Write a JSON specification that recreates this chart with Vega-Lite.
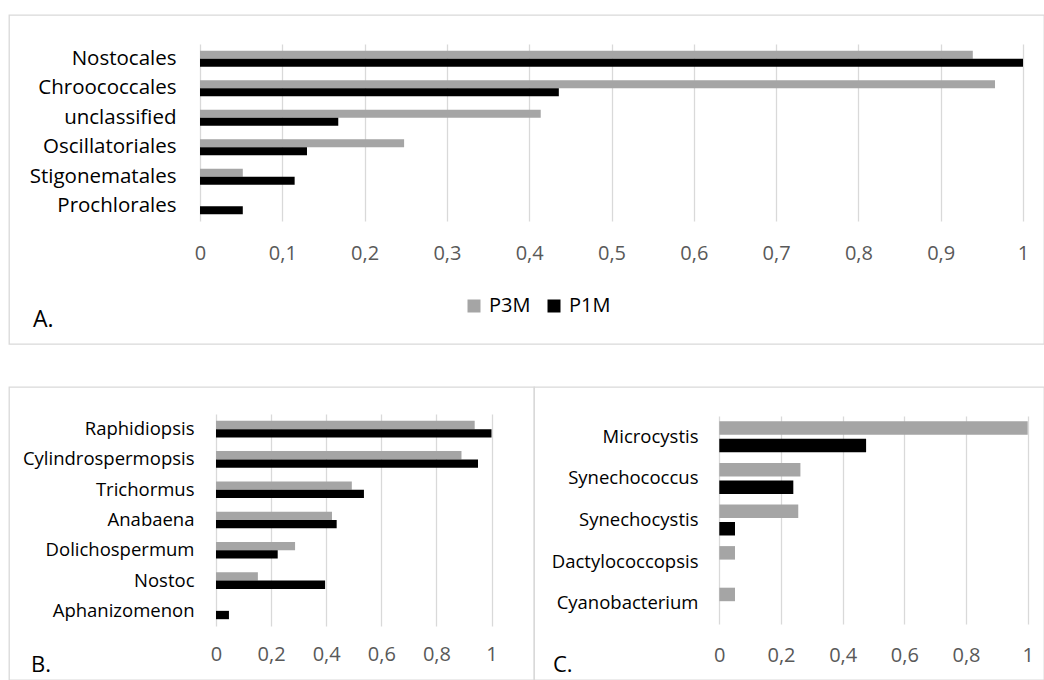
{
  "$schema": "https://vega.github.io/schema/vega-lite/v6.json",
  "padding": {"left": 8, "top": 14, "right": 0, "bottom": 0},
  "autosize": {"type": "pad"},
  "bounds": "flush",
  "spacing": 43,
  "datasets": {
    "orders": [
      {"taxon": "Nostocales", "sample": "P3M", "value": 0.939},
      {"taxon": "Nostocales", "sample": "P1M", "value": 1.0},
      {"taxon": "Chroococcales", "sample": "P3M", "value": 0.966},
      {"taxon": "Chroococcales", "sample": "P1M", "value": 0.436},
      {"taxon": "unclassified", "sample": "P3M", "value": 0.414},
      {"taxon": "unclassified", "sample": "P1M", "value": 0.168},
      {"taxon": "Oscillatoriales", "sample": "P3M", "value": 0.248},
      {"taxon": "Oscillatoriales", "sample": "P1M", "value": 0.13},
      {"taxon": "Stigonematales", "sample": "P3M", "value": 0.052},
      {"taxon": "Stigonematales", "sample": "P1M", "value": 0.115},
      {"taxon": "Prochlorales", "sample": "P3M", "value": 0},
      {"taxon": "Prochlorales", "sample": "P1M", "value": 0.052}
    ],
    "nostocales": [
      {"taxon": "Raphidiopsis", "sample": "P3M", "value": 0.939},
      {"taxon": "Raphidiopsis", "sample": "P1M", "value": 1.0},
      {"taxon": "Cylindrospermopsis", "sample": "P3M", "value": 0.891},
      {"taxon": "Cylindrospermopsis", "sample": "P1M", "value": 0.951},
      {"taxon": "Trichormus", "sample": "P3M", "value": 0.493},
      {"taxon": "Trichormus", "sample": "P1M", "value": 0.537},
      {"taxon": "Anabaena", "sample": "P3M", "value": 0.421},
      {"taxon": "Anabaena", "sample": "P1M", "value": 0.438},
      {"taxon": "Dolichospermum", "sample": "P3M", "value": 0.287},
      {"taxon": "Dolichospermum", "sample": "P1M", "value": 0.224},
      {"taxon": "Nostoc", "sample": "P3M", "value": 0.152},
      {"taxon": "Nostoc", "sample": "P1M", "value": 0.396},
      {"taxon": "Aphanizomenon", "sample": "P3M", "value": 0},
      {"taxon": "Aphanizomenon", "sample": "P1M", "value": 0.047}
    ],
    "chroococcales": [
      {"taxon": "Microcystis", "sample": "P3M", "value": 1.0},
      {"taxon": "Microcystis", "sample": "P1M", "value": 0.476},
      {"taxon": "Synechococcus", "sample": "P3M", "value": 0.263},
      {"taxon": "Synechococcus", "sample": "P1M", "value": 0.24},
      {"taxon": "Synechocystis", "sample": "P3M", "value": 0.256},
      {"taxon": "Synechocystis", "sample": "P1M", "value": 0.051},
      {"taxon": "Dactylococcopsis", "sample": "P3M", "value": 0.051},
      {"taxon": "Dactylococcopsis", "sample": "P1M", "value": 0},
      {"taxon": "Cyanobacterium", "sample": "P3M", "value": 0.051},
      {"taxon": "Cyanobacterium", "sample": "P1M", "value": 0}
    ]
  },
  "resolve": {"scale": {"color": "independent", "yOffset": "independent"}, "legend": {"color": "independent"}},
  "vconcat": [
    {
      "width": 1035,
      "height": 329,
      "data": {"name": "orders"},
      "mark": {"type": "bar"},
      "title": {"text": "A.", "orient": "bottom", "anchor": "start", "frame": "group", "baseline": "alphabetic", "offset": -17, "dx": 24, "fontSize": 23},
      "encoding": {
        "y": {
          "field": "taxon", "type": "nominal",
          "sort": ["Nostocales", "Chroococcales", "unclassified", "Oscillatoriales", "Stigonematales", "Prochlorales"],
          "scale": {"range": [29, 206], "paddingInner": 0.458, "paddingOuter": 0.229},
          "axis": {"offset": -167, "labelFontSize": 20.5, "labelColor": "#000000", "labelPadding": 0}
        },
        "x": {
          "field": "value", "type": "quantitative",
          "scale": {"domain": [0, 1], "range": [191, 1014], "nice": false},
          "axis": {"orient": "top", "labelPadding": -238, "values": [0, 0.1, 0.2, 0.3, 0.4, 0.5, 0.6, 0.7, 0.8, 0.9, 1], "labelFontSize": 20, "grid": true}
        },
        "yOffset": {"field": "sample", "type": "nominal", "sort": ["P3M", "P1M"], "scale": {"paddingInner": 0, "paddingOuter": 0}},
        "color": {
          "field": "sample", "type": "nominal",
          "scale": {"domain": ["P3M", "P1M"], "range": ["#a5a5a5", "#000000"]},
          "legend": {
            "orient": "none", "legendX": 455, "legendY": 281, "direction": "horizontal",
            "title": null, "padding": 0, "symbolType": "square", "symbolSize": 169,
            "symbolStrokeWidth": 0, "labelFontSize": 20, "labelColor": "#000000",
            "labelOffset": 5, "columnPadding": 13
          }
        }
      }
    },
    {
      "spacing": 0,
      "bounds": "flush",
      "resolve": {"scale": {"color": "independent", "yOffset": "independent"}, "legend": {"color": "independent"}},
      "hconcat": [
        {
          "width": 525,
          "height": 293,
          "data": {"name": "nostocales"},
          "mark": {"type": "bar"},
          "title": {"text": "B.", "orient": "bottom", "anchor": "start", "frame": "group", "baseline": "alphabetic", "offset": -8, "dx": 22, "fontSize": 22},
          "encoding": {
            "y": {
              "field": "taxon", "type": "nominal",
              "sort": ["Raphidiopsis", "Cylindrospermopsis", "Trichormus", "Anabaena", "Dolichospermum", "Nostoc", "Aphanizomenon"],
              "scale": {"range": [27, 239], "paddingInner": 0.45, "paddingOuter": 0.225},
              "axis": {"offset": -185, "labelFontSize": 18.5, "labelColor": "#000000", "labelPadding": 0}
            },
            "x": {
              "field": "value", "type": "quantitative",
              "scale": {"domain": [0, 1], "range": [207, 482.5], "nice": false},
              "axis": {"orient": "top", "labelPadding": -267, "values": [0, 0.2, 0.4, 0.6, 0.8, 1], "labelFontSize": 20, "grid": true}
            },
            "yOffset": {"field": "sample", "type": "nominal", "sort": ["P3M", "P1M"], "scale": {"paddingInner": 0, "paddingOuter": 0}},
            "color": {
              "field": "sample", "type": "nominal",
              "scale": {"domain": ["P3M", "P1M"], "range": ["#a5a5a5", "#000000"]},
              "legend": null
            }
          }
        },
        {
          "width": 510,
          "height": 293,
          "data": {"name": "chroococcales"},
          "mark": {"type": "bar"},
          "title": {"text": "C.", "orient": "bottom", "anchor": "start", "frame": "group", "baseline": "alphabetic", "offset": -8, "dx": 19, "fontSize": 22},
          "encoding": {
            "y": {
              "field": "taxon", "type": "nominal",
              "sort": ["Microcystis", "Synechococcus", "Synechocystis", "Dactylococcopsis", "Cyanobacterium"],
              "scale": {"range": [29, 237], "paddingInner": 0.255, "paddingOuter": 0.1275},
              "axis": {"offset": -164, "labelFontSize": 18.5, "labelColor": "#000000", "labelPadding": 0}
            },
            "x": {
              "field": "value", "type": "quantitative",
              "scale": {"domain": [0, 1], "range": [185.3, 493.7], "nice": false},
              "axis": {"orient": "top", "labelPadding": -268, "values": [0, 0.2, 0.4, 0.6, 0.8, 1], "labelFontSize": 20, "grid": true}
            },
            "yOffset": {"field": "sample", "type": "nominal", "sort": ["P3M", "P1M"], "scale": {"paddingInner": 0.229, "paddingOuter": 0}},
            "color": {
              "field": "sample", "type": "nominal",
              "scale": {"domain": ["P3M", "P1M"], "range": ["#a5a5a5", "#000000"]},
              "legend": null
            }
          }
        }
      ]
    }
  ],
  "config": {
    "font": "Open Sans",
    "view": {"stroke": "#d9d9d9", "strokeWidth": 1.3},
    "title": {"color": "#000000", "fontWeight": "normal", "font": "Open Sans"},
    "axis": {
      "title": null,
      "domain": false,
      "ticks": false,
      "tickSize": 0,
      "labelFont": "Open Sans",
      "labelLimit": 400,
      "labelFlush": false,
      "labelOverlap": false,
      "gridColor": "#d9d9d9",
      "gridWidth": 1.3
    },
    "axisX": {"labelColor": "#595959", "labelBaseline": "middle", "labelExpr": "replace(format(datum.value, '~g'), '.', ',')"},
    "legend": {"labelFont": "Open Sans"}
  }
}
